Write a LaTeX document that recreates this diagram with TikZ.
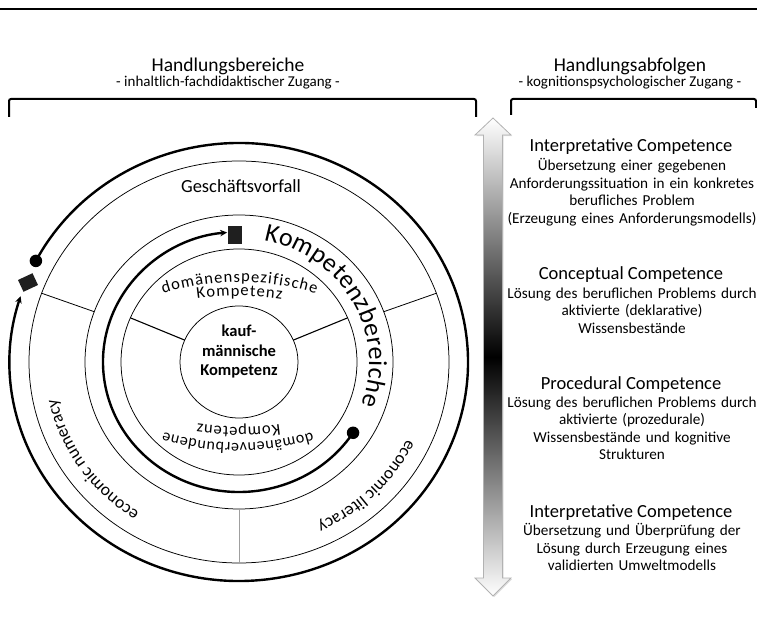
\documentclass[tikz,border=0pt]{standalone}
\usepackage{fontspec}
\setmainfont{Carlito}
\usetikzlibrary{calc,decorations.text,arrows.meta,shadows}
\begin{document}
\begin{tikzpicture}[x=1pt,y=1pt,
  ringline/.style={line width=0.75pt},
  boldarc/.style={line width=2.4pt},
  divider/.style={line width=0.8pt},
  innerdiv/.style={line width=1.1pt},
  dotmark/.style={circle,fill=black,inner sep=0pt,minimum size=12.5pt},
  sqmark/.style={rectangle,fill=black!88,inner sep=0pt},
  hdtitle/.style={font=\fontsize{19.5}{23}\selectfont,anchor=base,inner sep=0pt},
  hdsub/.style={font=\fontsize{15}{18}\selectfont,anchor=base,inner sep=0pt},
  comphead/.style={font=\fontsize{18.5}{22}\selectfont,anchor=base,inner sep=0pt},
  compbody/.style={font=\fontsize{15.2}{17.5}\selectfont,anchor=base,inner sep=0pt,text width=262pt,align=center},
  bracket/.style={line width=2pt,rounded corners=2pt},
]
\useasboundingbox (0,0) rectangle (757,635);

% top rule and brackets
\draw[line width=1.1pt] (0,626) -- (757,626);
\draw[bracket] (9,518) -- (9,536) -- (476,536) -- (476,518);
\draw[bracket] (511,520) -- (511,536) -- (756,536) -- (756,527);

% titles
\node[hdtitle] (hb) at (228,563) {Handlungsbereiche};
\node[hdsub] (hbs) at (228,548) {- inhaltlich-fachdidaktischer Zugang -};
\node[hdtitle] (ha) at (630,563) {Handlungsabfolgen};
\node[hdsub] (has) at (630,548) {- kognitionspsychologischer Zugang -};

% gradient double arrow
\path[draw=gray!60, line width=0.8pt, top color=white, bottom color=white, middle color=black,
      drop shadow={opacity=0.25,shadow xshift=1.2pt,shadow yshift=-1.2pt}]
  (493,517) -- (511,500) -- (502.5,500) -- (502.5,57) -- (511,57) -- (493,39)
  -- (475,57) -- (483.5,57) -- (483.5,500) -- (475,500) -- cycle;

% right-hand texts
\node[comphead] (h1) at (631,483) {Interpretative Competence};
\node[compbody] (b1) at (632,464) {Übersetzung einer gegebenen\\Anforderungssituation in ein konkretes\\berufliches Problem\\(Erzeugung eines Anforderungsmodells)};
\node[comphead] (h2) at (631,355) {Conceptual Competence};
\node[compbody] (b2) at (632,336.5) {Lösung des beruflichen Problems durch\\aktivierte (deklarative)\\Wissensbestände};
\node[comphead] (h3) at (631,246) {Procedural Competence};
\node[compbody] (b3) at (632,227.5) {Lösung des beruflichen Problems durch\\aktivierte (prozedurale)\\Wissensbestände und kognitive\\Strukturen};
\node[comphead] (h4) at (631,118) {Interpretative Competence};
\node[compbody] (b4) at (632,99.5) {Übersetzung und Überprüfung der\\Lösung durch Erzeugung eines\\validierten Umweltmodells};

% circles
\coordinate (C) at (239,273);
\draw[ringline] (C) ellipse [x radius=210, y radius=201];
\draw[ringline] (C) ellipse [x radius=154, y radius=147];
\draw[ringline] (C) ellipse [x radius=118, y radius=113];
\draw[ringline] (C) ellipse [x radius=59, y radius=56];

% dividers outer ring
\draw[divider] ($(C)+(160:154 and 147)$) -- ($(C)+(160:210 and 201)$);
\draw[divider] ($(C)+(20:154 and 147)$) -- ($(C)+(20:210 and 201)$);
\draw[divider, draw=gray!75] ($(C)+(270:154 and 147)$) -- ($(C)+(270:210 and 201)$);
% dividers inner ring
\draw[innerdiv] ($(C)+(157:59 and 56)$) -- ($(C)+(157:118 and 113)$);
\draw[innerdiv] ($(C)+(23:59 and 56)$) -- ($(C)+(23:118 and 113)$);

% outer bold arc with markers
\coordinate (oS) at ($(C)+(152.5:229 and 219)$);
\draw[boldarc, -{Stealth[length=7pt,width=6.5pt]}] (oS) arc[start angle=152.5, end angle=-197.5, x radius=229, y radius=219];
\node[dotmark] (od) at (oS) {};
\node[sqmark, minimum width=16pt, minimum height=13pt, rotate=25] (osq) at (28,352.5) {};

% inner bold arc with markers
\coordinate (iS) at ($(C)+(-33:136 and 130)$);
\draw[boldarc, -{Stealth[length=7pt,width=6.5pt]}] (iS) arc[start angle=-33, end angle=-265, x radius=136, y radius=130];
\node[dotmark] (id) at (iS) {};
\node[sqmark, minimum width=14pt, minimum height=18pt] (isq) at (234.5,400) {};

% texts in circles
\node[font=\fontsize{18.5}{22}\selectfont, anchor=base, inner sep=0pt] (gv) at (241,442) {Geschäftsvorfall};
\node[font=\fontsize{16.5}{19.5}\selectfont\bfseries, anchor=base, inner sep=0pt, text width=100pt, align=center] (km) at (239,298) {kauf-\\männische\\Kompetenz};

\path[decorate, decoration={text along path, text={|\fontsize{26}{26}\selectfont|Kompetenzbereiche}, text align=fit to path}]
  ($(C)+(79:130 and 124)$) arc[start angle=79, end angle=-20, x radius=130, y radius=124];

\coordinate (dsC) at (239.5,99);
\path[decorate, decoration={text along path, text={|\fontsize{16.5}{16.5}\selectfont|domänenspezifische}, text align=fit to path}]
  ($(dsC)+(107.5:254)$) arc[start angle=107.5, end angle=72.5, radius=254];
\coordinate (k1C) at (239.5,39);
\path[decorate, decoration={text along path, text={|\fontsize{16.5}{16.5}\selectfont|Kompetenz}, text align=fit to path}]
  ($(k1C)+(98.1:300)$) arc[start angle=98.1, end angle=81.9, radius=300];
\coordinate (dvC) at (238,453);
\path[decorate, decoration={text along path, text={|\fontsize{16}{16}\selectfont|domänenverbundene}, text align=fit to path}]
  ($(dvC)+(-73.5:261)$) arc[start angle=-73.5, end angle=-106.5, radius=261];
\coordinate (k2C) at (238.5,508);
\path[decorate, decoration={text along path, text={|\fontsize{16.5}{16.5}\selectfont|Kompetenz}, text align=fit to path}]
  ($(k2C)+(-82.1:300)$) arc[start angle=-82.1, end angle=-97.9, radius=300];

\path[decorate, decoration={text along path, text={|\fontsize{17.5}{17.5}\selectfont|economic numeracy}, text align=center}]
  ($(C)+(254.5:186 and 178)$) arc[start angle=254.5, end angle=174.5, x radius=186, y radius=178];
\path[decorate, decoration={text along path, text={|\fontsize{17.5}{17.5}\selectfont|economic literacy}, text align=center}]
  ($(C)+(-5:186 and 178)$) arc[start angle=-5, end angle=-85, x radius=186, y radius=178];
\end{tikzpicture}
\end{document}
